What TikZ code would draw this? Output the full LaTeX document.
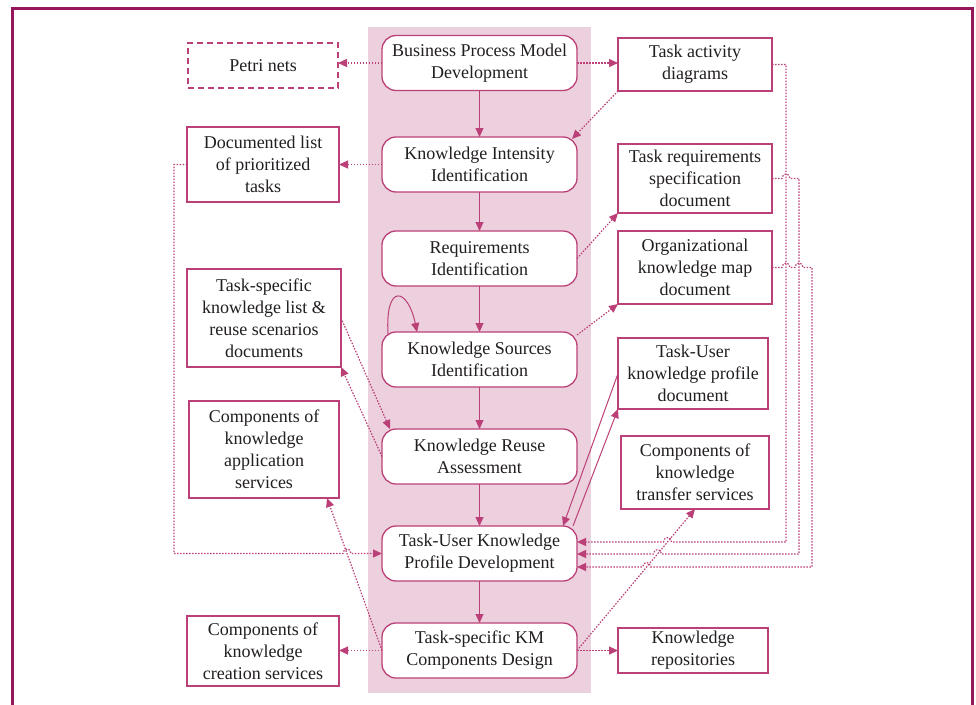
\documentclass[tikz,border=0pt]{standalone}
\usepackage{fontspec}
\setmainfont{Liberation Serif}
\usetikzlibrary{arrows.meta}
\definecolor{framec}{RGB}{150,22,92}
\definecolor{edgec}{RGB}{187,64,120}
\definecolor{bandc}{RGB}{236,208,221}
\definecolor{txtc}{RGB}{35,31,32}
\begin{document}
\begin{tikzpicture}[x=1pt,y=-1pt,
  font=\fontsize{18}{22}\selectfont,
  base/.style={draw=edgec, line width=1.3pt, fill=white, text=txtc,
    align=center, inner sep=0pt, outer sep=0pt},
  phase/.style={base, rounded corners=14pt, minimum width=195pt, minimum height=55pt},
  artefact/.style={base},
  tip/.style={-{Triangle[length=9pt,width=8pt]}},
  flow/.style={draw=edgec, line width=1pt, tip},
  link/.style={draw=edgec, line width=1.2pt, dash pattern=on 1.5pt off 1.5pt, tip},
  hopr/.style args={#1/#2}{insert path={-- (#1-4,#2) .. controls (#1-4,#2-6) and (#1+4,#2-6) .. (#1+4,#2)}},
  hopl/.style args={#1/#2}{insert path={-- (#1+4,#2) .. controls (#1+4,#2-6) and (#1-4,#2-6) .. (#1-4,#2)}}
]
\useasboundingbox (0,0) rectangle (976,704);

% outer frame, open at the bottom
\draw[framec, line width=3pt] (12,706) -- (12,8) -- (972,8) -- (972,706);

% methodology band
\fill[bandc] (368,27) rectangle (591,693);

% methodology phases
\node[phase] (bpm)  at (479.5,63)    {Business Process Model\\Development};
\node[phase] (kii)  at (479.5,164.5) {Knowledge Intensity\\Identification};
\node[phase] (ri)   at (479.5,258.5) {Requirements\\Identification};
\node[phase] (ksi)  at (479.5,359.5) {Knowledge Sources\\Identification};
\node[phase] (kra)  at (479.5,456.5) {Knowledge Reuse\\Assessment};
\node[phase] (tukp) at (479.5,553.5) {Task-User Knowledge\\Profile Development};
\node[phase] (tskm) at (479.5,650.5) {Task-specific KM\\Components Design};

% artefacts on the left
\node[artefact, dash pattern=on 6pt off 4pt, minimum width=150pt, minimum height=45pt]
  (petri) at (263,65.5) {Petri nets};
\node[artefact, minimum width=152pt, minimum height=75pt]
  (doclist) at (263,164.5) {Documented list\\of prioritized\\tasks};
\node[artefact, minimum width=154pt, minimum height=98pt]
  (tsklist) at (264,318) {Task-specific\\knowledge list \&\\reuse scenarios\\documents};
\node[artefact, minimum width=150pt, minimum height=97pt]
  (appsvc) at (264,449.5) {Components of\\knowledge\\application\\services};
\node[artefact, minimum width=152pt, minimum height=70pt]
  (creation) at (263,651) {Components of\\knowledge\\creation services};

% artefacts on the right
\node[artefact, minimum width=154pt, minimum height=53pt]
  (tad) at (695,64.5) {Task activity\\diagrams};
\node[artefact, minimum width=154pt, minimum height=69pt]
  (trs) at (695,178.5) {Task requirements\\specification\\document};
\node[artefact, minimum width=154pt, minimum height=73pt]
  (okm) at (695,267.5) {Organizational\\knowledge map\\document};
\node[artefact, minimum width=150pt, minimum height=71pt]
  (tukdoc) at (693,373.5) {Task-User\\knowledge profile\\document};
\node[artefact, minimum width=148pt, minimum height=73pt]
  (transfer) at (695,472.5) {Components of\\knowledge\\transfer services};
\node[artefact, minimum width=150pt, minimum height=45pt]
  (repo) at (693,650.5) {Knowledge\\repositories};

% phase sequence
\foreach \a/\b in {bpm/kii,kii/ri,ri/ksi,ksi/kra,kra/tukp,tukp/tskm}
  \draw[flow] (\a) -- (\b);

% iteration on knowledge sources
\draw[flow] ([xshift=6pt,yshift=-2pt]ksi.north west)
  .. controls (385,282) and (408,288) .. ([xshift=35pt]ksi.north west);

% produced and consumed artefacts
\draw[link] (bpm.west) -- (bpm.west -| petri.east);
\draw[link] (bpm.east) -- (bpm.east -| tad.west);
\draw[link] (tad.south west) -- ([xshift=-5pt,yshift=-2pt]kii.north east);
\draw[link] (kii.west) -- (kii.west -| doclist.east);
\draw[link] (ri.east) -- (trs.south west);
\draw[link] ([yshift=-3pt]ksi.north east) -- (okm.south west);
\draw[link] (tsklist.east) -- ([xshift=8pt]kra.north west);
\draw[link] (kra.west) -- (tsklist.south east);
\draw[flow] (tukdoc.west) -- ([xshift=-14pt]tukp.north east);
\draw[flow] ([xshift=-4pt]tukp.north east) -- (tukdoc.south west);
\draw[link] (tskm.west) -- ([xshift=-12pt]appsvc.south east);
\draw[link] (tskm.west) -- (tskm.west -| creation.east);
\draw[link] (tskm.east) -- (tskm.east -| repo.west);
\draw[link] (tskm.east) -- (transfer.south);

% feedback into the profile development
\draw[link] (doclist.west) -- (174,164.5) -- (174,553.5) [hopr=347/553.5] -- (tukp.west);
\draw[link] (tad.east) -- (786,64.5) -- (786,542) [hopl=667.5/542] -- (tukp.east |- 0,542);
\draw[link] (trs.east) [hopr=786/178.5] -- (799,178.5) -- (799,554)
  [hopl=657.5/554] -- (tukp.east |- 0,554);
\draw[link] (okm.east) [hopr=786/267.5] [hopr=799/267.5] -- (812,267.5) -- (812,567)
  [hopl=646.6/567] -- (tukp.east |- 0,567);
\end{tikzpicture}
\end{document}
